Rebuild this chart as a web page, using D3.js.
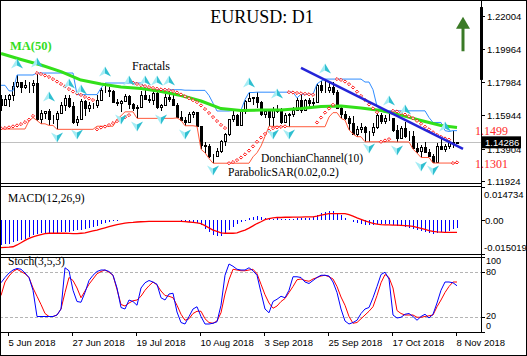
<!DOCTYPE html>
<html><head><meta charset="utf-8">
<script src="https://cdn.jsdelivr.net/npm/d3@7"></script>
<style>body{margin:0;background:#fff}svg{display:block}</style>
</head><body>
<svg id="c" width="527" height="356"></svg>
<script>
// ---------- DATA ----------
const opens=[1.1693,1.1658,1.1694,1.1717,1.1774,1.1799,1.1768,1.1781,1.1776,1.1793,
1.1569,1.1607,1.1623,1.1574,1.1569,1.1607,1.1656,1.1701,1.1650,1.1552,
1.1570,1.1684,1.1636,1.1656,1.1655,1.1689,1.1746,1.1749,1.1743,1.1673,
1.1671,1.1683,1.1712,1.1660,1.1640,1.1643,1.1719,1.1692,1.1685,1.1730,
1.1642,1.1658,1.1707,1.1691,1.1659,1.1584,1.1567,1.1551,1.1600,1.1612,
1.1526,1.1410,1.1405,1.1344,1.1346,1.1376,1.1437,1.1477,1.1570,1.1597,
1.1536,1.1620,1.1680,1.1700,1.1706,1.1672,1.1602,1.1620,1.1583,1.1628,
1.1623,1.1553,1.1593,1.1601,1.1625,1.1690,1.1624,1.1685,1.1669,1.1672,
1.1777,1.1746,1.1747,1.1765,1.1738,1.1640,1.1604,1.1578,1.1547,1.1480,
1.1511,1.1525,1.1490,1.1492,1.1524,1.1596,1.1560,1.1580,1.1575,1.1502,
1.1453,1.1514,1.1466,1.1470,1.1391,1.1374,1.1401,1.1371,1.1346,1.1311,
1.1409,1.1388,1.1406,1.1429,1.1427];
const highs=[1.1720,1.1718,1.1723,1.1796,1.1840,1.1800,1.1810,1.1796,1.1810,1.1852,
1.1626,1.1623,1.1634,1.1598,1.1623,1.1674,1.1720,1.1715,1.1672,1.1590,
1.1692,1.1686,1.1673,1.1670,1.1720,1.1760,1.1791,1.1764,1.1750,1.1696,
1.1687,1.1723,1.1716,1.1667,1.1655,1.1740,1.1750,1.1719,1.1747,1.1745,
1.1661,1.1721,1.1746,1.1715,1.1668,1.1619,1.1582,1.1612,1.1620,1.1613,
1.1528,1.1432,1.1418,1.1356,1.1395,1.1445,1.1485,1.1572,1.1623,1.1600,
1.1625,1.1690,1.1733,1.1706,1.1735,1.1680,1.1625,1.1621,1.1642,1.1658,
1.1640,1.1610,1.1610,1.1645,1.1700,1.1722,1.1691,1.1700,1.1701,1.1786,
1.1803,1.1815,1.1789,1.1797,1.1750,1.1649,1.1623,1.1590,1.1590,1.1527,
1.1548,1.1526,1.1500,1.1545,1.1607,1.1610,1.1596,1.1621,1.1580,1.1534,
1.1530,1.1550,1.1500,1.1495,1.1425,1.1412,1.1432,1.1390,1.1359,1.1425,
1.1456,1.1416,1.1440,1.1500,1.1432];
const lows=[1.1617,1.1653,1.1643,1.1684,1.1763,1.1727,1.1756,1.1730,1.1729,1.1562,
1.1542,1.1573,1.1532,1.1541,1.1508,1.1601,1.1617,1.1636,1.1540,1.1527,
1.1568,1.1591,1.1615,1.1632,1.1640,1.1680,1.1733,1.1708,1.1670,1.1650,
1.1615,1.1681,1.1630,1.1617,1.1575,1.1640,1.1685,1.1668,1.1655,1.1635,
1.1620,1.1654,1.1677,1.1651,1.1578,1.1563,1.1530,1.1546,1.1578,1.1526,
1.1386,1.1365,1.1330,1.1301,1.1340,1.1365,1.1406,1.1465,1.1555,1.1527,
1.1531,1.1600,1.1675,1.1655,1.1640,1.1590,1.1577,1.1530,1.1526,1.1606,
1.1543,1.1553,1.1524,1.1583,1.1617,1.1610,1.1621,1.1640,1.1650,1.1667,
1.1732,1.1730,1.1731,1.1720,1.1640,1.1575,1.1564,1.1505,1.1480,1.1463,
1.1488,1.1432,1.1433,1.1467,1.1508,1.1540,1.1538,1.1560,1.1494,1.1431,
1.1449,1.1458,1.1439,1.1387,1.1363,1.1336,1.1367,1.1336,1.1302,1.1310,
1.1383,1.1370,1.1385,1.1393,1.1420];
const closes=[1.1658,1.1694,1.1717,1.1774,1.1799,1.1768,1.1781,1.1776,1.1793,1.1569,
1.1607,1.1623,1.1574,1.1569,1.1607,1.1656,1.1701,1.1650,1.1552,1.1570,
1.1684,1.1636,1.1656,1.1655,1.1689,1.1746,1.1749,1.1743,1.1673,1.1671,
1.1683,1.1712,1.1660,1.1640,1.1643,1.1719,1.1692,1.1685,1.1730,1.1642,
1.1658,1.1707,1.1691,1.1659,1.1584,1.1567,1.1551,1.1600,1.1612,1.1526,
1.1410,1.1405,1.1344,1.1346,1.1376,1.1437,1.1477,1.1570,1.1597,1.1536,
1.1620,1.1680,1.1700,1.1706,1.1672,1.1602,1.1620,1.1583,1.1628,1.1623,
1.1553,1.1593,1.1601,1.1625,1.1690,1.1624,1.1685,1.1669,1.1672,1.1777,
1.1746,1.1747,1.1765,1.1738,1.1640,1.1604,1.1578,1.1547,1.1480,1.1511,
1.1525,1.1490,1.1492,1.1524,1.1596,1.1560,1.1580,1.1575,1.1502,1.1453,
1.1514,1.1466,1.1470,1.1391,1.1374,1.1401,1.1371,1.1346,1.1311,1.1409,
1.1388,1.1406,1.1429,1.1427,1.14286];
const donchUpper=[1.1777,1.1777,1.1743,1.1743,1.1840,1.1840,1.1840,1.1840,1.1840,1.1852,
1.1852,1.1852,1.1852,1.1852,1.1852,1.1852,1.1852,1.1852,1.1852,1.1720,
1.1720,1.1720,1.1720,1.1720,1.1720,1.1760,1.1791,1.1791,1.1791,1.1791,
1.1791,1.1791,1.1791,1.1791,1.1791,1.1791,1.1764,1.1750,1.1750,1.1750,
1.1750,1.1750,1.1750,1.1750,1.1750,1.1750,1.1747,1.1747,1.1746,1.1746,
1.1746,1.1746,1.1715,1.1668,1.1620,1.1620,1.1620,1.1620,1.1623,1.1623,
1.1625,1.1690,1.1733,1.1733,1.1735,1.1735,1.1735,1.1735,1.1735,1.1735,
1.1735,1.1735,1.1735,1.1735,1.1700,1.1722,1.1722,1.1722,1.1722,1.1786,
1.1803,1.1815,1.1815,1.1815,1.1815,1.1815,1.1815,1.1815,1.1815,1.1815,
1.1815,1.1797,1.1797,1.1750,1.1649,1.1623,1.1610,1.1621,1.1621,1.1621,
1.1621,1.1621,1.1621,1.1621,1.1621,1.1621,1.1621,1.1580,1.1550,1.1550,
1.1550,1.1500,1.1495,1.1500,1.1500];
const donchLower=[1.1510,1.1510,1.1510,1.1510,1.1510,1.1510,1.1510,1.1560,1.1580,1.1562,
1.1542,1.1542,1.1532,1.1532,1.1508,1.1508,1.1508,1.1508,1.1508,1.1508,
1.1508,1.1508,1.1508,1.1508,1.1527,1.1527,1.1527,1.1527,1.1527,1.1568,
1.1591,1.1615,1.1615,1.1615,1.1575,1.1575,1.1575,1.1575,1.1575,1.1575,
1.1575,1.1575,1.1575,1.1575,1.1578,1.1563,1.1530,1.1530,1.1530,1.1526,
1.1386,1.1365,1.1330,1.1301,1.1301,1.1301,1.1301,1.1301,1.1301,1.1301,
1.1301,1.1301,1.1301,1.1340,1.1365,1.1406,1.1465,1.1527,1.1526,1.1526,
1.1526,1.1526,1.1524,1.1524,1.1524,1.1524,1.1524,1.1524,1.1524,1.1524,
1.1524,1.1524,1.1583,1.1610,1.1610,1.1575,1.1564,1.1505,1.1480,1.1463,
1.1463,1.1432,1.1432,1.1432,1.1432,1.1432,1.1432,1.1432,1.1432,1.1431,
1.1431,1.1431,1.1431,1.1387,1.1363,1.1336,1.1336,1.1336,1.1302,1.1302,
1.1302,1.1302,1.1302,1.1302,1.1302];
const sar=[1.1514,1.1516,1.1520,1.1526,1.1532,1.1540,1.1552,1.1567,1.1590,
1.1852,1.1846,1.1837,1.1828,1.1815,1.1800,1.1785,1.1770,1.1754,1.1739,1.1727,1.1718,1.1706,1.1696,1.1687,
1.1508,1.1519,1.1525,1.1534,1.1546,1.1558,1.1570,1.1582,1.1595,
1.1793,1.1785,1.1778,1.1772,1.1766,1.1761,1.1756,1.1752,1.1750,1.1748,1.1742,1.1733,1.1721,1.1710,1.1698,1.1686,1.1674,1.1654,1.1632,1.1608,1.1583,1.1559,1.1535,1.1516,
1.1301,1.1308,1.1320,1.1336,1.1355,1.1378,1.1404,1.1432,1.1458,1.1480,1.1500,1.1515,1.1520,1.1523,1.1526,
1.1735,1.1733,1.1730,1.1728,1.1725,1.1722,1.1719,
1.1550,1.1580,1.1610,1.1635,1.1658,
1.1815,1.1810,1.1800,1.1784,1.1764,1.1738,1.1712,1.1688,1.1660,1.1636,1.1613,
1.1432,1.1440,1.1448,
1.1621,1.1617,1.1608,1.1598,1.1588,1.1576,1.1560,1.1542,1.1524,1.1508,1.1490,1.1474,1.1462,1.1452,1.1445,
1.1302,1.1306];
const maIdx=[0,5,10,15,20,25,30,35,40,45,50,55,60,65,70,75,80,85,90,95,100,105,110,114];
const maVals=[1.1971,1.1935,1.1901,1.1861,1.1809,1.1785,1.1767,1.1757,1.1739,1.1715,1.1681,1.1635,
1.1623,1.1626,1.1626,1.1635,1.1647,1.1650,1.1638,1.1623,1.1595,1.1562,1.1531,1.1519];
const fractUpIdx=[4,9,12,17,20,26,32,36,39,42,62,69,81,97,101,111];
const fractUpPrice=[1.1907,1.1913,1.1706,1.1785,1.1748,1.1858,1.1803,1.1803,1.1803,1.1803,1.1791,1.1724,1.1877,1.1681,1.1626,1.1522];
const fractDnIdx=[14,19,30,34,40,46,53,68,72,92,99,105,108];
const fractDnPrice=[1.1461,1.1480,1.1571,1.1528,1.1571,1.1480,1.1260,1.1480,1.1480,1.1394,1.1382,1.1284,1.1260];
const trendIdx=[75,115.5];
const trendPrice=[1.1883,1.1388];
// MACD values in units of 1e-4
const macdMain=[-110,-107,-104,-99,-94,-89,-82,-75,-68,-62,-58,-56,-55,-55,-55,-54,-53,-51,-49,-45,
-42,-39,-36,-31,-25,-19,-12,-8,-5,-3,-1,1,2,1,0,1,2,2,3,2,
1,2,2,1,-1,-3,-5,-6,-6,-12,-21,-38,-52,-64,-72,-72,-62,-45,-29,-16,
-8,-2,10,16,17,15,11,8,7,8,6,6,6,7,9,9,10,11,14,24,
31,35,39,41,33,22,11,2,-6,-13,-17,-20,-22,-22,-18,-17,-17,-18,-21,-26,
-26,-30,-33,-39,-45,-50,-53,-56,-60,-57,-54,-51,-47,-40,-36];
const macdSignal=[-122,-121,-120,-118,-110,-100,-90,-81,-74,-69,-64,-60,-58,-58,-58,-58,-58,-59,-60,-60,
-58,-56,-52,-48,-44,-39,-34,-29,-24,-20,-16,-13,-11,-10,-8,-7,-6,-5,-5,-5,
-5,-5,-5,-5,-5,-5,-6,-8,-10,-12,-15,-24,-34,-44,-50,-56,-58,-58,-58,-56,
-50,-44,-35,-25,-15,-7,2,7,10,12,12,13,13,14,14,14,15,15,15,18,
22,26,29,29,29,29,29,25,18,10,4,-3,-9,-14,-18,-20,-21,-21,-22,-22,
-23,-24,-25,-28,-32,-36,-41,-46,-50,-52,-53,-54,-54,-54,-54];
const stochK=[65,72,78,82,84,83,78,72,55,20,20,20,20,20,22,30,85,81,55,40,
39,52,68,75,80,82,82,80,75,58,32,30,42,40,35,58,65,68,66,63,
45,42,50,51,26,12,10,20,30,33,20,10,10,11,13,35,75,90,87,83,
82,82,85,81,75,52,30,25,40,43,47,45,55,73,73,72,66,64,68,72,
75,75,74,66,52,30,14,10,12,15,24,30,32,45,60,76,79,70,22,18,
19,23,24,20,15,20,23,18,23,38,55,66,66,65,61];
const stochD=[48,66,74,80,83,80,77,72,58,47,36,24,20,20,22,30,52,72,68,58,
45,54,63,70,77,80,82,79,75,56,36,34,38,41,42,47,55,61,66,62,
54,48,47,45,35,23,15,17,24,27,27,17,12,11,14,25,50,69,83,82,
81,81,82,83,77,63,49,38,31,34,40,44,52,60,69,70,68,67,70,72,
74,75,73,70,60,46,35,20,11,12,17,22,27,33,48,65,76,72,58,28,
24,22,22,22,19,19,20,21,22,33,42,52,60,66,66];
const dateLabels=["5 Jun 2018","27 Jun 2018","19 Jul 2018","10 Aug 2018","3 Sep 2018","25 Sep 2018","17 Oct 2018","8 Nov 2018"];
const dateIdx=[2,18,34,50,66,82,98,114];
const priceTicks=[1.22004,1.19964,1.17984,1.15944,1.13904,1.11924];
const macdTicks=[0.014734,0,-0.015019];
const macdTickText=["0.014734","0.00","-0.015019"];
const stochTicks=[100,80,20,0];
const currentPrice=1.14286;
const resistance=1.1499, support=1.1301;

// ---------- DRAW ----------
const svg=d3.select("#c");
const SANS="'Liberation Sans', Arial, sans-serif";
const SERIF="'Liberation Serif', 'Times New Roman', serif";
const x=d3.scaleLinear().domain([0,114]).range([1,457]);
const yP=d3.scaleLinear().domain([1.11924,1.22004]).range([181,16]);
const yM=d3.scaleLinear().domain([-0.015019,0.014734]).range([254,187]);
const yS=d3.scaleLinear().domain([0,100]).range([331.5,256.5]);
const cx=i=>Math.round(x(i))+0.5;

svg.append("rect").attr("x",0).attr("y",0).attr("width",527).attr("height",356).attr("fill","#fff");
const defs=svg.append("defs");
defs.append("clipPath").attr("id","cm").append("rect").attr("x",0).attr("y",0).attr("width",481).attr("height",183);
defs.append("clipPath").attr("id","cd").append("rect").attr("x",0).attr("y",187).attr("width",481).attr("height",67);
defs.append("clipPath").attr("id","cs").append("rect").attr("x",0).attr("y",258).attr("width",481).attr("height",74);

const main=svg.append("g").attr("clip-path","url(#cm)");
// current price line
main.append("line").attr("x1",0).attr("x2",481).attr("y1",Math.round(yP(currentPrice))+0.5).attr("y2",Math.round(yP(currentPrice))+0.5)
  .attr("stroke","#c0c0c0").attr("stroke-width",1);

// candles
const idx=d3.range(closes.length);
const cg=main.append("g").attr("shape-rendering","crispEdges");
idx.forEach(i=>{
  const c=cx(i);
  cg.append("line").attr("x1",c).attr("x2",c).attr("y1",yP(highs[i])).attr("y2",yP(lows[i])).attr("stroke","#000");
  const top=Math.min(yP(opens[i]),yP(closes[i])), bot=Math.max(yP(opens[i]),yP(closes[i]));
  const bull=closes[i]>=opens[i];
  cg.append("rect").attr("x",c-1).attr("y",Math.round(top)+0.5).attr("width",2)
    .attr("height",Math.max(0,Math.round(bot)-Math.round(top)))
    .attr("fill",bull?"#fff":"#000").attr("stroke","#000");
});

// donchian
const lineI=arr=>d3.line().x((d,i)=>x(i)).y(d=>yP(d))(arr);
main.append("path").attr("d",lineI(donchUpper)).attr("fill","none").attr("stroke","#2f8cff").attr("stroke-width",1);
main.append("path").attr("d",lineI(donchLower)).attr("fill","none").attr("stroke","#ff5a3c").attr("stroke-width",1);

// MA
main.append("path").attr("d",d3.line().x((d,k)=>x(maIdx[k])).y(d=>yP(d))(maVals))
  .attr("fill","none").attr("stroke","#33e01a").attr("stroke-width",3).attr("stroke-linejoin","round");

// SAR
main.append("g").selectAll("path").data(sar).join("path")
  .attr("d",(d,i)=>{const X=x(i),Y=yP(d);return `M${X},${Y-1.6} L${X+1.6},${Y} L${X},${Y+1.6} L${X-1.6},${Y} Z`;})
  .attr("fill","#fff").attr("stroke","#ff0000").attr("stroke-width",0.9);

// fractals
function fractal(g,i,p,up){
  const X=x(i),Y=yP(p),s=up?1:-1;
  g.append("path").attr("d",`M${X},${Y-5.5*s} L${X-6},${Y+4.5*s} L${X},${Y+1.5*s} Z`).attr("fill","#a4ecf4");
  g.append("path").attr("d",`M${X},${Y-5.5*s} L${X+6},${Y+4.5*s} L${X},${Y+1.5*s} Z`).attr("fill","#2fbfd0");
}
const fg=main.append("g");
fractUpIdx.forEach((i,k)=>fractal(fg,i,fractUpPrice[k],true));
fractDnIdx.forEach((i,k)=>fractal(fg,i,fractDnPrice[k],false));

// trend line
main.append("line").attr("x1",x(trendIdx[0])).attr("y1",yP(trendPrice[0])).attr("x2",x(trendIdx[1])).attr("y2",yP(trendPrice[1]))
  .attr("stroke","#2424d8").attr("stroke-width",2.5);

// green arrow
const ax=x(115.5), ayTop=yP(1.2196), ayBot=yP(1.1985);
svg.append("line").attr("x1",ax).attr("x2",ax).attr("y1",ayTop+10).attr("y2",ayBot).attr("stroke","#3a7a26").attr("stroke-width",3);
svg.append("path").attr("d",`M${ax},${ayTop} L${ax-7},${ayTop+12} L${ax+7},${ayTop+12} Z`).attr("fill","#3a7a26");

// texts in main panel
svg.append("text").attr("x",262).attr("y",23).attr("text-anchor","middle").attr("font-family",SERIF).attr("font-size",18).attr("fill","#000").text("EURUSD: D1");
svg.append("text").attr("x",10).attr("y",50).attr("font-family",SERIF).attr("font-size",12.5).attr("font-weight","bold").attr("fill","#33dd22").text("MA(50)");
svg.append("text").attr("x",132).attr("y",70).attr("font-family",SERIF).attr("font-size",12).attr("fill","#000").text("Fractals");
svg.append("text").attr("x",261).attr("y",162).attr("font-family",SERIF).attr("font-size",11.5).attr("fill","#000").text("DonchianChannel(10)");
svg.append("text").attr("x",228).attr("y",176).attr("font-family",SERIF).attr("font-size",11.5).attr("fill","#000").text("ParabolicSAR(0.02,0.2)");
svg.append("text").attr("x",x(118.5)).attr("y",yP(resistance)+4.5).attr("font-family",SERIF).attr("font-size",12).attr("fill","#ff2a2a").text("1.1499");
svg.append("text").attr("x",x(118.5)).attr("y",yP(support)+5).attr("font-family",SERIF).attr("font-size",12).attr("fill","#ff2a2a").text("1.1301");

// price axis
const pa=svg.append("g");
priceTicks.forEach(p=>{
  const y=Math.round(yP(p))+0.5;
  pa.append("line").attr("x1",481).attr("x2",485).attr("y1",y).attr("y2",y).attr("stroke","#000");
  pa.append("text").attr("x",487).attr("y",y+3.5).attr("font-family",SANS).attr("font-size",9.5).attr("fill","#000").text(p.toFixed(5));
});
const cpy=yP(currentPrice);
pa.append("rect").attr("x",482).attr("y",cpy-6).attr("width",39).attr("height",12).attr("fill","#000");
pa.append("text").attr("x",485).attr("y",cpy+3.5).attr("font-family",SANS).attr("font-size",9.5).attr("fill","#fff").text(currentPrice.toFixed(5));
svg.append("rect").attr("x",480).attr("y",yP(1.2255)).attr("width",3).attr("height",yP(1.1810)-yP(1.2255)).attr("fill","#000");

// MACD panel
const md=svg.append("g").attr("clip-path","url(#cd)");
md.append("g").attr("shape-rendering","crispEdges").selectAll("line").data(macdMain).join("line")
  .attr("x1",(d,i)=>cx(i)).attr("x2",(d,i)=>cx(i)).attr("y1",yM(0)).attr("y2",d=>yM(d*1e-4))
  .attr("stroke","#0000ff").attr("stroke-width",1);
md.append("path").attr("d",d3.line().x((d,i)=>x(i)).y(d=>yM(d*1e-4))(macdSignal)).attr("fill","none").attr("stroke","#ff0000").attr("stroke-width",1.3);
svg.append("text").attr("x",8).attr("y",202).attr("font-family",SERIF).attr("font-size",11.5).attr("fill","#000").text("MACD(12,26,9)");
const mTickY=[194,220.5,247.5];
macdTicks.forEach((v,k)=>{
  const y=mTickY[k];
  svg.append("line").attr("x1",481).attr("x2",485).attr("y1",Math.round(yM(v))+0.5).attr("y2",Math.round(yM(v))+0.5).attr("stroke","#000");
  svg.append("text").attr("x",k==1?485:484).attr("y",y+3.5).attr("font-family",SANS).attr("font-size",9.5).attr("fill","#000").text(macdTickText[k]);
});

// Stoch panel
const st=svg.append("g").attr("clip-path","url(#cs)");
[20,80].forEach(v=>{
  st.append("line").attr("x1",0).attr("x2",481).attr("y1",Math.round(yS(v))+0.5).attr("y2",Math.round(yS(v))+0.5)
    .attr("stroke","#b4b4b4").attr("stroke-dasharray","3,2");
});
st.append("path").attr("d",d3.line().x((d,i)=>x(i)).y(d=>yS(d))(stochD)).attr("fill","none").attr("stroke","#ff0000").attr("stroke-width",1);
st.append("path").attr("d",d3.line().x((d,i)=>x(i)).y(d=>yS(d))(stochK)).attr("fill","none").attr("stroke","#0000ff").attr("stroke-width",1);
svg.append("text").attr("x",8).attr("y",265).attr("font-family",SERIF).attr("font-size",11.5).attr("fill","#000").text("Stoch(3,5,3)");
const sLabY={100:261,80:271.5,20:315.5,0:325.5};
stochTicks.forEach(v=>{
  svg.append("line").attr("x1",481).attr("x2",485).attr("y1",Math.round(yS(v))+0.5).attr("y2",Math.round(yS(v))+0.5).attr("stroke","#000");
  svg.append("text").attr("x",486).attr("y",sLabY[v]+3).attr("font-family",SANS).attr("font-size",9).attr("fill","#000").text(v);
});

// date axis
dateIdx.forEach((i,k)=>{
  const X=Math.round(x(i))-0.5;
  svg.append("line").attr("x1",X).attr("x2",X).attr("y1",332).attr("y2",336).attr("stroke","#000");
  svg.append("text").attr("x",X).attr("y",346).attr("font-family",SANS).attr("font-size",9.5).attr("fill","#000").text(dateLabels[k]);
});

// frames
const fr=svg.append("g").attr("fill","none").attr("stroke","#000").attr("shape-rendering","crispEdges");
fr.append("rect").attr("x",0.5).attr("y",0.5).attr("width",526).attr("height",355);
fr.append("line").attr("x1",0).attr("x2",481).attr("y1",183.5).attr("y2",183.5);
fr.append("line").attr("x1",0).attr("x2",481).attr("y1",186.5).attr("y2",186.5);
fr.append("line").attr("x1",0).attr("x2",481).attr("y1",254.5).attr("y2",254.5);
fr.append("line").attr("x1",0).attr("x2",481).attr("y1",257.5).attr("y2",257.5);
fr.append("line").attr("x1",0).attr("x2",481).attr("y1",332.5).attr("y2",332.5);
fr.append("line").attr("x1",481.5).attr("x2",481.5).attr("y1",0).attr("y2",333);
</script>
</body></html>
